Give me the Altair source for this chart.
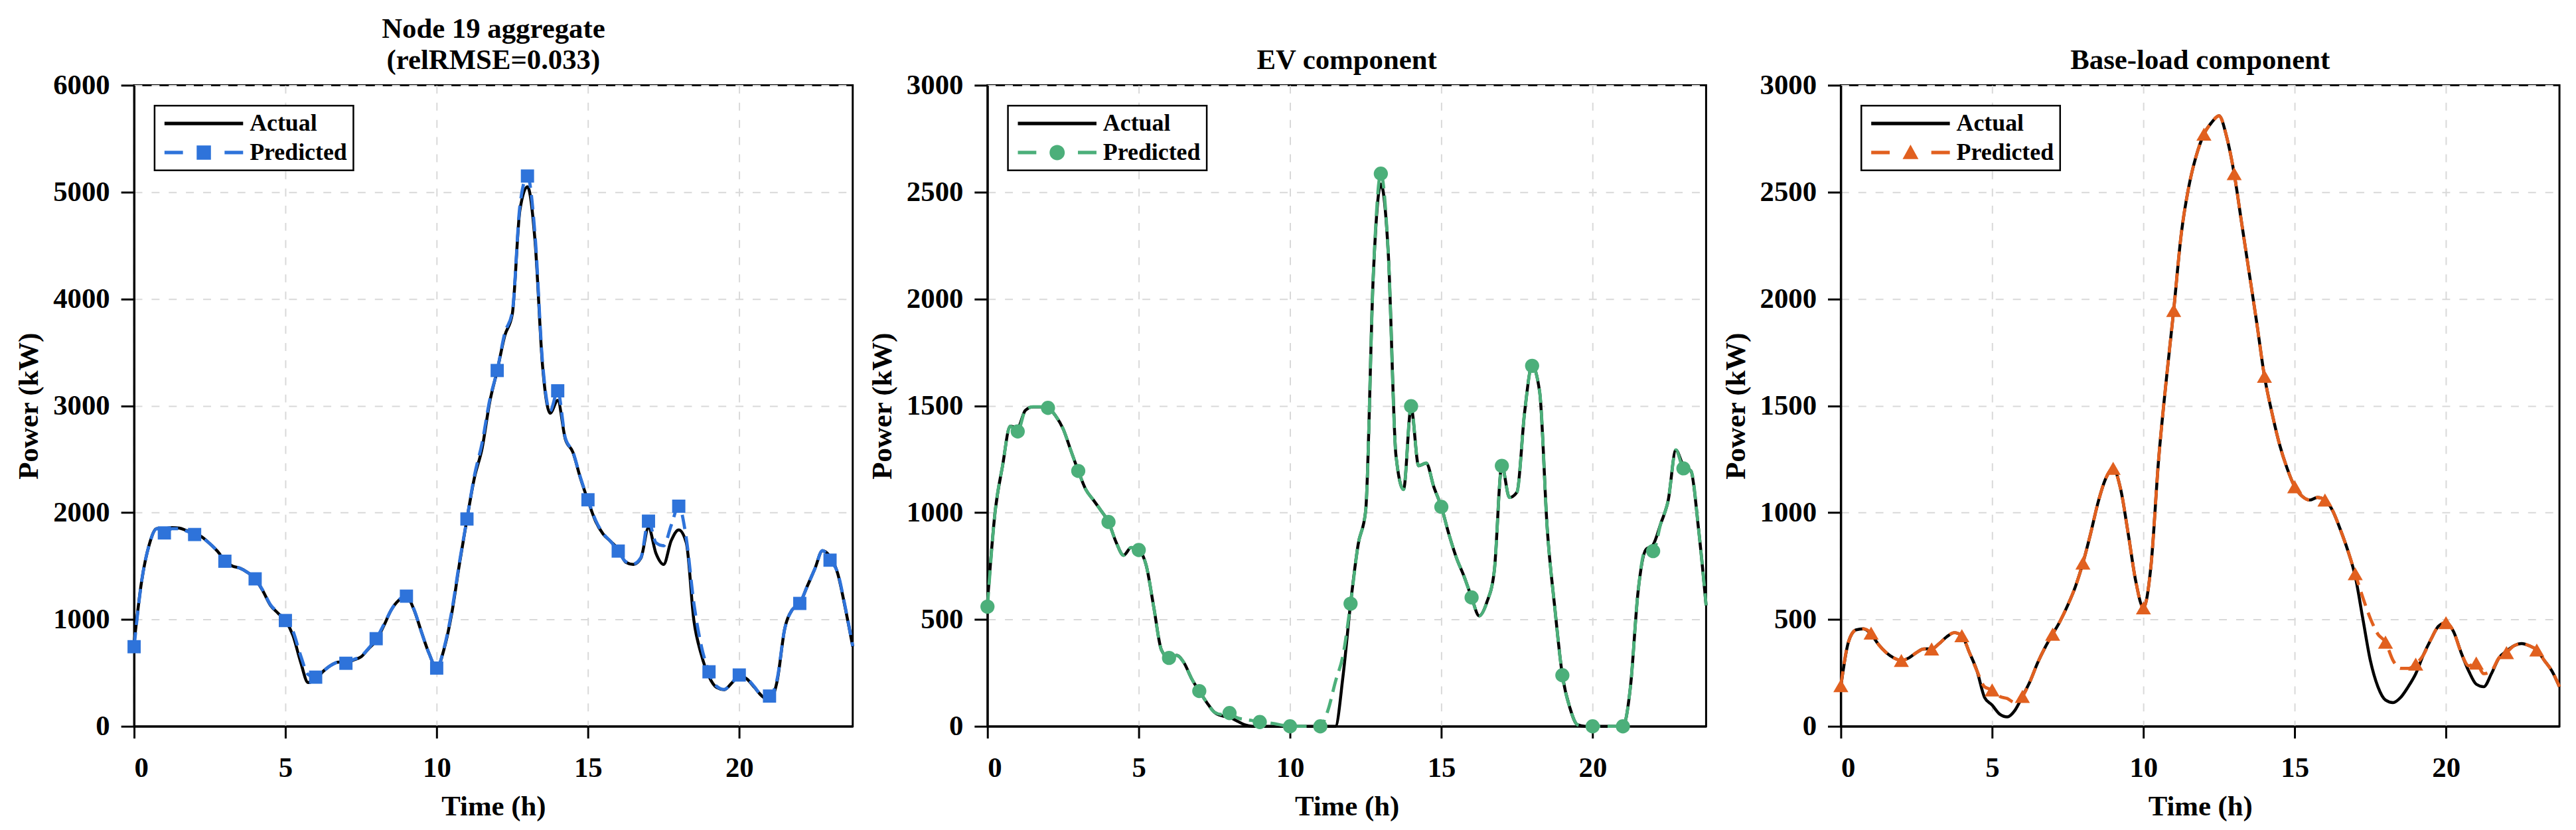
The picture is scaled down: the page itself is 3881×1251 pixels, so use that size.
import pandas as pd
import altair as alt

# quarter-hour time index, 0 .. 23.75 h
HOURS = [i / 4 for i in range(96)]
SERIES = ["Actual", "Predicted"]

AGG_ACTUAL = [
    780, 1360, 1700, 1850, 1850, 1860, 1855, 1830,
    1810, 1770, 1710, 1640, 1550, 1500, 1480, 1440,
    1380, 1270, 1135, 1060, 990, 850, 605, 410,
    440, 515, 570, 600, 600, 620, 650, 727,
    803, 940, 1090, 1180, 1218, 1090, 880, 680,
    545, 730, 1060, 1515, 1940, 2330, 2600, 3030,
    3330, 3656, 3860, 4830, 5050, 4545, 3370, 2930,
    3050, 2690, 2566, 2323, 2113, 1920, 1800, 1730,
    1657, 1535, 1515, 1575, 1860, 1616, 1515, 1737,
    1838, 1717, 990, 667, 465, 364, 343, 404,
    473, 444, 364, 283, 242, 420, 909, 1091,
    1150, 1313, 1475, 1644, 1588, 1434, 1111, 747,
]
AGG_PRED = [
    745, 1360, 1700, 1850, 1810, 1850, 1850, 1825,
    1795, 1765, 1710, 1640, 1545, 1500, 1480, 1440,
    1380, 1275, 1140, 1065, 990, 890, 665, 485,
    460, 515, 570, 600, 590, 625, 655, 730,
    820, 950, 1090, 1185, 1218, 1095, 880, 680,
    545, 740, 1080, 1530, 1940, 2350, 2650, 3050,
    3330, 3680, 3880, 4870, 5150, 4600, 3400, 2950,
    3140, 2700, 2570, 2330, 2120, 1930, 1805, 1730,
    1640, 1540, 1520, 1580, 1920, 1717, 1690, 1880,
    2060, 1757, 1150, 747, 510, 375, 345, 404,
    480, 450, 370, 290, 283, 440, 909, 1091,
    1150, 1313, 1475, 1644, 1555, 1440, 1120, 750,
]
EV_ACTUAL = [
    580, 1000, 1220, 1404, 1400, 1478, 1495, 1495,
    1490, 1453, 1392, 1293, 1195, 1108, 1059, 1010,
    956, 862, 800, 837, 825, 751, 554, 357,
    320, 332, 296, 222, 165, 111, 66, 49,
    42, 25, 7, 0, 0, 0, 0, 0,
    0, 0, 0, 0, 0, 0, 0, 234,
    574, 850, 1010, 2106, 2537, 2204, 1268, 1108,
    1490, 1219, 1232, 1121, 1027, 899, 788, 702,
    603, 517, 579, 727, 1219, 1071, 1096, 1466,
    1687, 1564, 924, 554, 239, 86, 7, 0,
    0, 0, 0, 0, 0, 185, 628, 825,
    850, 948, 1059, 1293, 1219, 1195, 924, 566,
]
EV_PRED = [
    560, 1000, 1220, 1404, 1380, 1478, 1495, 1495,
    1490, 1453, 1392, 1293, 1195, 1108, 1059, 1010,
    956, 862, 800, 837, 825, 751, 554, 357,
    320, 332, 296, 222, 165, 111, 66, 55,
    62, 40, 32, 27, 20, 17, 12, 5,
    0, 0, 0, 0, 0, 74, 209, 332,
    574, 850, 1010, 2106, 2586, 2204, 1268, 1108,
    1498, 1219, 1232, 1121, 1027, 899, 788, 702,
    603, 517, 579, 727, 1219, 1071, 1096, 1466,
    1687, 1564, 924, 554, 239, 86, 7, 0,
    0, 0, 0, 0, 0, 185, 628, 825,
    820, 948, 1059, 1293, 1207, 1195, 924, 566,
]
BASE_ACTUAL = [
    185, 394, 451, 456, 431, 382, 345, 320,
    308, 320, 345, 362, 362, 387, 419, 438,
    424, 345, 259, 135, 99, 57, 44, 74,
    140, 209, 296, 369, 431, 493, 567, 653,
    764, 899, 1047, 1158, 1207, 1108, 899, 677,
    555, 751, 1244, 1613, 1946, 2303, 2525, 2672,
    2771, 2825, 2857, 2759, 2586, 2352, 2118, 1884,
    1638, 1466, 1318, 1207, 1121, 1076, 1059, 1071,
    1059, 1010, 924, 825, 702, 505, 308, 185,
    123, 111, 135, 185, 246, 333, 406, 468,
    485, 443, 345, 259, 197, 185, 246, 320,
    352, 377, 387, 377, 357, 308, 259, 185,
]
BASE_PRED = [
    190, 394, 451, 456, 436, 382, 345, 320,
    308, 320, 345, 362, 362, 387, 419, 438,
    424, 345, 259, 185, 170, 140, 130, 111,
    140, 209, 296, 369, 431, 493, 567, 653,
    764, 899, 1047, 1158, 1207, 1108, 899, 677,
    554, 751, 1244, 1613, 1946, 2303, 2525, 2672,
    2771, 2825, 2857, 2759, 2586, 2352, 2118, 1884,
    1638, 1466, 1318, 1207, 1121, 1076, 1059, 1071,
    1059, 1010, 924, 825, 714, 603, 505, 431,
    394, 308, 271, 271, 291, 333, 406, 468,
    485, 443, 345, 283, 296, 246, 259, 320,
    345, 377, 387, 377, 357, 308, 259, 185,
]

FONT = "Liberation Serif"
BLUE, GREEN, ORANGE = "#2E73DA", "#4CAF7A", "#E1601F"

# legend glyphs: unit = 12px, drawn from x=-1 to x=8.92 (about 119px wide)
LINE_GLYPH = "M-1,-0.22H8.92V0.22H-1Z"
DASH = "M-1,-0.22H1.33V0.22H-1Z M6.58,-0.22H8.92V0.22H6.58Z "
SQUARE_GLYPH = DASH + "M3.06,-0.9H4.86V0.9H3.06Z"
CIRCLE_GLYPH = DASH + "M3.0,0 A0.96,0.96 0 1,0 4.92,0 A0.96,0.96 0 1,0 3.0,0 Z"
TRIANGLE_GLYPH = DASH + "M2.96,0.82 L4.96,0.82 L3.96,-1.0 Z"

LEG = alt.Legend(title=None, orient="top-left")


def panel(title, actual, pred, color, glyph, marker, marker_size, y_max, y_step):
    df = pd.DataFrame({"t": HOURS, "Actual": actual, "Predicted": pred}).melt(
        "t", var_name="series", value_name="power")
    x = alt.X("t:Q", scale=alt.Scale(domain=[0, 23.75], nice=False, zero=False),
              axis=alt.Axis(values=[0, 5, 10, 15, 20], title="Time (h)"))
    y = alt.Y("power:Q", scale=alt.Scale(domain=[0, y_max], nice=False),
              axis=alt.Axis(values=list(range(0, y_max + 1, y_step)), format="d",
                            title="Power (kW)"))
    base = alt.Chart(df)
    act = base.transform_filter("datum.series == 'Actual'").mark_line(
        color="black", strokeWidth=4.5, interpolate="monotone").encode(x=x, y=y)
    prd = base.transform_filter("datum.series == 'Predicted'").mark_line(
        color=color, strokeWidth=4.8, strokeDash=[22, 11], interpolate="monotone").encode(x=x, y=y)
    pts = base.transform_filter("datum.series == 'Predicted' && datum.t % 1 == 0").mark_point(
        shape=marker, filled=True, size=marker_size, color=color, opacity=1).encode(x=x, y=y)
    leg = base.transform_filter("false").mark_point(filled=True, opacity=1).encode(
        color=alt.Color("series:N", scale=alt.Scale(domain=SERIES, range=["black", color]), legend=LEG),
        shape=alt.Shape("series:N", scale=alt.Scale(domain=SERIES, range=[LINE_GLYPH, glyph]), legend=LEG),
    )
    return alt.layer(act, prd, pts, leg).properties(
        width=1088, height=971, title=alt.Title(title))


p1 = panel(["Node 19 aggregate", "(relRMSE=0.033)"], AGG_ACTUAL, AGG_PRED, BLUE,
           SQUARE_GLYPH, "square", 400, 6000, 1000)
p2 = panel(["", "EV component"], EV_ACTUAL, EV_PRED, GREEN,
           CIRCLE_GLYPH, "circle", 460, 3000, 500)
p3 = panel(["", "Base-load component"], BASE_ACTUAL, BASE_PRED, ORANGE,
           TRIANGLE_GLYPH, "triangle-up", 520, 3000, 500)

chart = alt.hconcat(p1, p2, p3, spacing=10).resolve_scale(
    color="independent", shape="independent"
).resolve_legend(
    color="independent", shape="independent"
).properties(
    padding={"left": 13, "top": 10, "right": 5, "bottom": 5}
).configure_view(
    stroke="black", strokeWidth=3
).configure_axis(
    labelFont=FONT, labelFontWeight="bold", labelFontSize=43, labelColor="black",
    titleFont=FONT, titleFontWeight="bold", titleFontSize=43, titleColor="black",
    domainColor="black", domainWidth=3, tickColor="black", tickWidth=3,
    gridColor="#d9d9d9", gridDash=[12, 14], gridWidth=2,
).configure_axisX(
    tickSize=18, labelPadding=24, titlePadding=15,
).configure_axisY(
    tickSize=20, labelPadding=17, titlePadding=14,
).configure_legend(
    offset=31, padding=9, strokeColor="black", strokeWidth=2.5, fillColor="white",
    labelFont=FONT, labelFontWeight="bold", labelFontSize=36, labelColor="black",
    symbolSize=576, symbolStrokeWidth=0, labelOffset=99, rowPadding=8,
).configure_title(
    font=FONT, fontWeight="bold", fontSize=43, color="black", lineHeight=47,
    baseline="bottom", offset=-5,
)

chart.save("out.html", embed_options={"renderer": "svg", "actions": False})
